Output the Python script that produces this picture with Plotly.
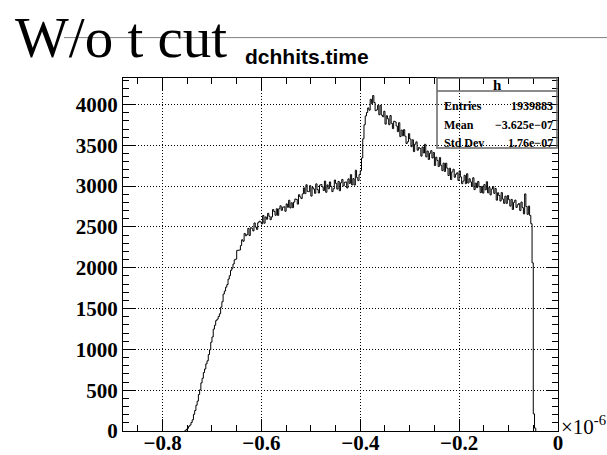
import plotly.graph_objects as go

# ---------------- data (x in units of 1e-6 s) ----------------
bin_start = -0.755
bin_width = 0.0025
counts = [
    4, 18, 33, 57, 72, 104, 138, 205, 251, 316,
    366, 447, 505, 590, 646, 716, 760, 822, 860, 937,
    995, 1088, 1152, 1248, 1296, 1352, 1370, 1402, 1436, 1517,
    1584, 1678, 1715, 1762, 1794, 1861, 1903, 1968, 1994, 2046,
    2098, 2105, 2213, 2215, 2217, 2272, 2343, 2325, 2420, 2392,
    2406, 2482, 2395, 2491, 2484, 2451, 2549, 2498, 2470, 2552,
    2570, 2561, 2537, 2640, 2546, 2623, 2594, 2667, 2631, 2589,
    2623, 2714, 2689, 2643, 2723, 2642, 2723, 2759, 2703, 2742,
    2747, 2692, 2782, 2741, 2827, 2733, 2796, 2736, 2804, 2842,
    2838, 2780, 2895, 2868, 2848, 2905, 2979, 2908, 3017, 2936,
    2932, 3006, 2878, 2984, 2965, 2912, 3028, 2958, 2916, 3013,
    3020, 2992, 2946, 3062, 2925, 3015, 2968, 3052, 2997, 2933,
    2967, 3075, 3033, 2964, 3058, 2944, 3042, 3082, 3003, 3047,
    3051, 2977, 3089, 3034, 3141, 3015, 3092, 3013, 3195, 3104,
    3068, 3141, 3190, 3345, 3580, 3752, 3860, 3902, 3958, 3931,
    4065, 4010, 4110, 4025, 3925, 3935, 3990, 3875, 3990, 3870,
    3850, 3918, 3760, 3863, 3825, 3753, 3865, 3770, 3705, 3795,
    3787, 3737, 3667, 3777, 3607, 3687, 3617, 3692, 3612, 3522,
    3543, 3643, 3578, 3483, 3568, 3423, 3515, 3543, 3440, 3473,
    3462, 3368, 3480, 3406, 3513, 3359, 3430, 3327, 3403, 3435,
    3345, 3412, 3253, 3355, 3315, 3240, 3350, 3255, 3190, 3282,
    3180, 3282, 3220, 3130, 3220, 3080, 3175, 3207, 3109, 3146,
    3163, 3070, 3187, 3113, 3030, 3062, 3133, 3030, 3152, 3038,
    3090, 3052, 2996, 3103, 2957, 3037, 2981, 3057, 2993, 2921,
    2997, 2915, 3019, 2955, 3054, 2918, 2985, 2893, 2964, 2994,
    2912, 2972, 2828, 2919, 2885, 2818, 2921, 2841, 2789, 2877,
    2789, 2886, 2834, 2755, 2838, 2714, 2801, 2829, 2739, 2772,
    2787, 2701, 2805, 2737, 2660, 2905, 2750, 2654, 2756, 2641,
    2540, 2060, 210, 35,
]

stats_title = "h"
stats_labels = ["Entries", "Mean", "Std Dev"]
stats_values = ["1939883", "\u22123.625e\u221207", "1.76e\u221207"]

main_title = "W/o t cut"
hist_title = "dchhits.time"
x_exponent = "\u00d710<sup>-6</sup>"

x_range = [-0.88, 0.0]
y_range = [0, 4325]

# ---------------- geometry helpers (pixels -> paper) ----------------
W, H = 607, 455
L, R, T, B = 123, 558, 78, 431


def px(xp):
    return (xp - L) / (R - L)


def py(yp):
    return (B - yp) / (B - T)


edges = [bin_start + bin_width * k for k in range(len(counts) + 1)]
xs = [edges[0]] + edges
ys = [0] + counts + [0]

fig = go.Figure()
fig.add_trace(go.Scatter(x=xs, y=ys, mode="lines", line=dict(color="black", width=1, shape="hv"),
                         hoverinfo="skip"))

tick_font = dict(family="Liberation Serif", size=21, color="black", weight="bold")
axis_common = dict(
    ticks="inside", ticklen=12, tickcolor="black", tickwidth=1,
    showline=True, linecolor="black", linewidth=1, mirror="allticks",
    showgrid=True, gridcolor="black", gridwidth=1, griddash="1px,2px",
    zeroline=False, tickfont=tick_font, automargin=False,
)

fig.update_xaxes(range=x_range, tickmode="linear", tick0=0, dtick=0.2, ticklabelstandoff=-7,
                 minor=dict(tick0=0, dtick=0.05, ticks="inside", ticklen=6, tickcolor="black", showgrid=False),
                 **axis_common)
fig.update_yaxes(range=y_range, tickmode="linear", tick0=0, dtick=500,
                 minor=dict(tick0=0, dtick=100, ticks="inside", ticklen=6, tickcolor="black", showgrid=False),
                 **axis_common)

shapes = [
    dict(type="line", xref="paper", yref="paper", x0=px(64), x1=px(607), y0=py(37.6), y1=py(37.6),
         line=dict(color="#808080", width=1)),
    dict(type="rect", xref="paper", yref="paper", x0=px(437), x1=px(557), y0=py(78), y1=py(148),
         line=dict(color="#666666", width=1.5), fillcolor="rgba(0,0,0,0)"),
    dict(type="line", xref="paper", yref="paper", x0=px(437), x1=px(557), y0=py(91), y1=py(91),
         line=dict(color="#666666", width=1.5)),
]

ann = []
ann.append(dict(text=main_title, xref="paper", yref="paper", x=px(13), y=py(37), xanchor="left",
                yanchor="middle", showarrow=False,
                font=dict(family="Liberation Serif", size=57, color="black")))
ann.append(dict(text=hist_title, xref="paper", yref="paper", x=px(243), y=py(57), xanchor="left",
                yanchor="middle", showarrow=False,
                font=dict(family="Liberation Sans", size=21, color="black", weight="bold")))
ann.append(dict(text=x_exponent, xref="paper", yref="paper", x=px(559), y=py(425), xanchor="left",
                yanchor="middle", showarrow=False,
                font=dict(family="Liberation Serif", size=21, color="black")))
ann.append(dict(text=stats_title, xref="paper", yref="paper", x=px(497), y=py(84.5), xanchor="center",
                yanchor="middle", showarrow=False,
                font=dict(family="Liberation Serif", size=15, color="black", weight="bold")))
for i, (lab, val) in enumerate(zip(stats_labels, stats_values)):
    yy = [106, 125, 143][i]
    ann.append(dict(text=lab, xref="paper", yref="paper", x=px(442), y=py(yy), xanchor="left",
                    yanchor="middle", showarrow=False,
                    font=dict(family="Liberation Serif", size=12, color="black", weight="bold")))
    ann.append(dict(text=val, xref="paper", yref="paper", x=px(555), y=py(yy), xanchor="right",
                    yanchor="middle", showarrow=False,
                    font=dict(family="Liberation Serif", size=12, color="black", weight="bold")))

fig.update_layout(width=W, height=H, margin=dict(l=L, r=W - R, t=T, b=H - B, pad=0),
                  paper_bgcolor="white", plot_bgcolor="white", showlegend=False,
                  shapes=shapes, annotations=ann)

fig.write_html("out.html")
